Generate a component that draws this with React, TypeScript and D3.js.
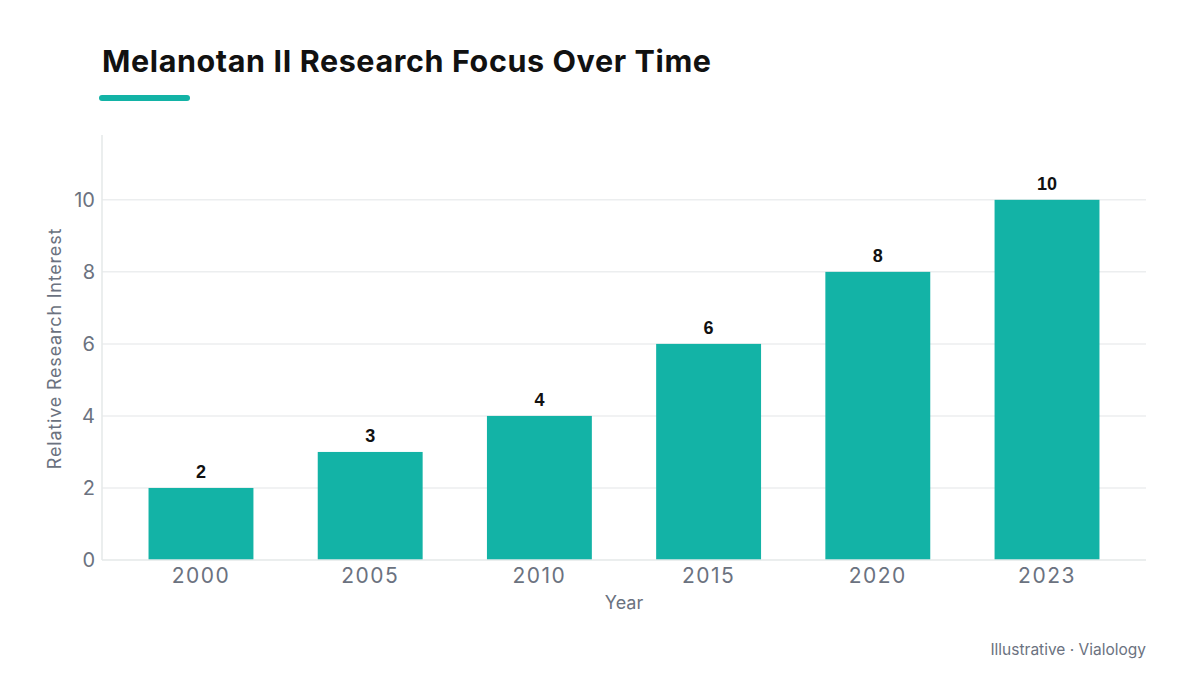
import * as d3 from "d3";
import { useEffect, useRef } from "react";

const years = ["2000", "2005", "2010", "2015", "2020", "2023"];
const interest = [2, 3, 4, 6, 8, 10];
const yTicks = [0, 2, 4, 6, 8, 10];

const W = 1200;
const H = 675;
const margin = { top: 135, right: 54, bottom: 115, left: 102 };
const teal = "#13b3a6";
const gray = "#6b7280";
const font = "Inter, 'Noto Sans', sans-serif";

function App() {
  const ref = useRef<SVGSVGElement>(null);

  useEffect(() => {
    const svg = d3.select(ref.current);
    svg.selectAll("*").remove();

    const x = d3
      .scaleBand<string>()
      .domain(years)
      .range([margin.left, W - margin.right])
      .paddingInner(0.38)
      .paddingOuter(0.275);
    const y = d3
      .scaleLinear()
      .domain([0, 11.8])
      .range([H - margin.bottom, margin.top]);

    // title + accent
    svg
      .append("text")
      .attr("x", 102)
      .attr("y", 72)
      .attr("font-family", font)
      .attr("font-weight", 700)
      .attr("font-size", 30.5)
      .attr("letter-spacing", 0.6)
      .attr("fill", "#111")
      .text("Melanotan II Research Focus Over Time");
    svg
      .append("rect")
      .attr("x", 99)
      .attr("y", 95)
      .attr("width", 91)
      .attr("height", 6)
      .attr("rx", 3)
      .attr("fill", teal);

    // grid
    svg
      .append("g")
      .selectAll("line")
      .data(yTicks.filter((t) => t > 0))
      .join("line")
      .attr("x1", margin.left)
      .attr("x2", W - margin.right)
      .attr("y1", (d) => y(d))
      .attr("y2", (d) => y(d))
      .attr("stroke", "#eceeef")
      .attr("stroke-width", 1.5);

    // y axis line
    svg
      .append("line")
      .attr("x1", margin.left)
      .attr("x2", margin.left)
      .attr("y1", margin.top)
      .attr("y2", y(0))
      .attr("stroke", "#e5e8e9")
      .attr("stroke-width", 1.5);

    // bars
    svg
      .append("g")
      .selectAll("rect")
      .data(interest)
      .join("rect")
      .attr("x", (_, i) => x(years[i])!)
      .attr("width", x.bandwidth())
      .attr("y", (d) => y(d))
      .attr("height", (d) => y(0) - y(d))
      .attr("fill", teal);

    // value labels
    svg
      .append("g")
      .selectAll("text")
      .data(interest)
      .join("text")
      .attr("x", (_, i) => x(years[i])! + x.bandwidth() / 2)
      .attr("y", (d) => y(d) - 10)
      .attr("text-anchor", "middle")
      .attr("font-family", "'Liberation Sans', Arial, sans-serif")
      .attr("font-weight", 700)
      .attr("font-size", 18)
      .attr("fill", "#111")
      .text((d) => d);

    // x axis line
    svg
      .append("line")
      .attr("x1", margin.left)
      .attr("x2", W - margin.right)
      .attr("y1", y(0))
      .attr("y2", y(0))
      .attr("stroke", "#e5e8e9")
      .attr("stroke-width", 1.5);

    // y tick labels
    svg
      .append("g")
      .selectAll("text")
      .data(yTicks)
      .join("text")
      .attr("x", margin.left - 7)
      .attr("y", (d) => y(d))
      .attr("dy", "0.35em")
      .attr("text-anchor", "end")
      .attr("font-family", font)
      .attr("font-size", 20)
      .attr("fill", gray)
      .text((d) => d);

    // x tick labels
    svg
      .append("g")
      .selectAll("text")
      .data(years)
      .join("text")
      .attr("x", (d) => x(d)! + x.bandwidth() / 2)
      .attr("y", y(0) + 23)
      .attr("text-anchor", "middle")
      .attr("font-family", font)
      .attr("font-size", 21)
      .attr("letter-spacing", 1.5)
      .attr("fill", gray)
      .text((d) => d);

    // axis titles
    svg
      .append("text")
      .attr("x", (margin.left + W - margin.right) / 2)
      .attr("y", 609)
      .attr("text-anchor", "middle")
      .attr("font-family", font)
      .attr("font-size", 18)
      .attr("fill", gray)
      .text("Year");
    svg
      .append("text")
      .attr("transform", `translate(61,${(margin.top + y(0)) / 2 + 1}) rotate(-90)`)
      .attr("text-anchor", "middle")
      .attr("font-family", font)
      .attr("font-size", 18)
      .attr("letter-spacing", 0.8)
      .attr("fill", gray)
      .text("Relative Research Interest");

    // footer
    svg
      .append("text")
      .attr("x", 1146)
      .attr("y", 655)
      .attr("text-anchor", "end")
      .attr("font-family", font)
      .attr("font-size", 15.5)
      .attr("fill", gray)
      .text("Illustrative · Vialology");
  });

  return (
    <svg
      ref={ref}
      width={W}
      height={H}
      style={{ position: "absolute", left: 0, top: 0, background: "#fff" }}
    />
  );
}

export default App;
